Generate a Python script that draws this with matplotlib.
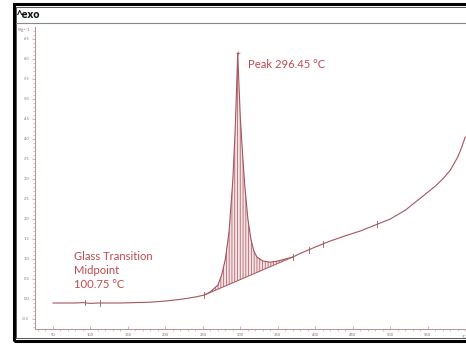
import matplotlib
matplotlib.use("Agg")
import matplotlib.pyplot as plt
from matplotlib.patches import Rectangle
from matplotlib.lines import Line2D

# DSC curve (temperature in °C, heat flow in W/g)
temp = [50, 60, 70, 80, 90, 100, 110, 120, 140, 160, 180, 200, 220, 240, 252,
        260, 270, 275, 280, 285, 290, 293, 295, 296.45, 298, 300, 303, 306,
        310, 314, 318, 322, 330, 340, 350, 360, 370, 380, 390, 400, 420, 440,
        460, 480, 500, 520, 540, 560, 570, 580, 590, 595, 600]
heat = [-0.10, -0.10, -0.10, -0.10, -0.09, -0.11, -0.10, -0.10, -0.10, -0.09,
        -0.08, -0.05, -0.01, 0.05, 0.10,
        0.18, 0.35, 0.60, 1.00, 1.70, 3.00, 4.20, 5.30, 6.15, 5.40, 4.50,
        3.60, 2.80, 2.00, 1.50, 1.20, 1.05, 0.95, 0.92, 0.95, 1.00, 1.05,
        1.14, 1.22, 1.30, 1.45, 1.58, 1.70, 1.85, 2.00, 2.22, 2.52, 2.82,
        3.00, 3.22, 3.55, 3.78, 4.05]

# integration limits / baseline end points
base_t = [252, 370]
base_v = [0.10, 1.05]

# little evaluation marks on the curve
mark_t = [93, 113, 252, 370, 391, 410, 482]
mark_v = [-0.09, -0.10, 0.10, 1.05, 1.22, 1.37, 1.87]

xticks = [50, 100, 150, 200, 250, 300, 350, 400, 450, 500, 550]
yticks = [-0.5, 0.0, 0.5, 1.0, 1.5, 2.0, 2.5, 3.0, 3.5, 4.0, 4.5, 5.0, 5.5, 6.0, 6.5]

curve_c = "#a4545c"
hatch_c = "#b7666e"
text_c = "#bf4a50"
tick_c = "#8c7070"

plt.rcParams["font.family"] = ["Lato", "DejaVu Sans"]
plt.rcParams["hatch.linewidth"] = 0.6

fig = plt.figure(figsize=(4.66, 3.44), dpi=100)
W, H = 466.0, 344.0

ax = fig.add_axes([35 / W, 15 / H, (466 - 35) / W, (329 - 27) / H])
ax.set_xlim(26, 601)
ax.set_ylim(-0.75, 6.8)

ax.plot(temp, heat, color=curve_c, lw=0.8)

# hatched area between curve and baseline
sel = [(t, v) for t, v in zip(temp, heat) if base_t[0] <= t <= base_t[1]]
px = [p[0] for p in sel] + base_t[::-1]
py = [p[1] for p in sel] + base_v[::-1]
ax.fill(px, py, facecolor="#f3e4e6", hatch="||||||", edgecolor=hatch_c, lw=0)
ax.plot(base_t, base_v, color=curve_c, lw=0.7)

for t, v in zip(mark_t, mark_v):
    ax.plot([t, t], [v - 0.07, v + 0.07], color=curve_c, lw=0.6)
ax.plot([296.45], [6.15], marker="+", ms=2.5, mew=0.5, color=curve_c)

ax.text(310, 5.87, "Peak 296.45 °C", color=text_c, fontsize=8.1, va="center")
ax.text(78, 0.72, "Glass Transition\nMidpoint\n100.75 °C", color=text_c,
        fontsize=8.1, va="center", linespacing=1.35)

for s in ["top", "right"]:
    ax.spines[s].set_visible(False)
for s in ["left", "bottom"]:
    ax.spines[s].set_color("#b89090")
    ax.spines[s].set_linewidth(0.7)

ax.set_xticks(xticks)
ax.set_xticks(range(30, 601, 10), minor=True)
ax.set_yticks(yticks)
ax.set_yticks([v / 10 for v in range(-7, 68)], minor=True)
ax.set_yticklabels([f"{v:.1f}" for v in yticks])
ax.tick_params(axis="both", labelsize=3, labelcolor=tick_c, color="#b89090",
               width=0.5, length=2.5, pad=1.5)
ax.tick_params(axis="both", which="minor", color="#b89090", width=0.4, length=1.3)
ax.tick_params(axis="x", direction="in", pad=3)
ax.text(1.0, -0.02, "°C", transform=ax.transAxes, fontsize=3, color=tick_c,
        ha="right", va="top")
ax.text(-0.04, 0.985, "Wg^-1", transform=ax.transAxes, fontsize=3, color=tick_c,
        ha="left", va="bottom")

# frame around the picture
fig.add_artist(Rectangle((13.5 / W, 3.5 / H), 1.0, (340.5 - 3.5) / H,
                         transform=fig.transFigure, fill=False, ec="black", lw=2.2))
fig.add_artist(Rectangle((16 / W, 6.5 / H), 1.0, (337 - 6.5) / H,
                         transform=fig.transFigure, fill=False, ec="#555555", lw=0.7))
fig.add_artist(Line2D([16 / W, 1.0], [1 - 23 / H, 1 - 23 / H],
                      transform=fig.transFigure, color="#888888", lw=0.8))
fig.text(17 / W, 1 - 15.5 / H, "^exo", fontsize=7.5, fontweight="bold",
         color="#111111", va="center", family=["Open Sans", "DejaVu Sans"])

fig.savefig("out.png", dpi=100)
